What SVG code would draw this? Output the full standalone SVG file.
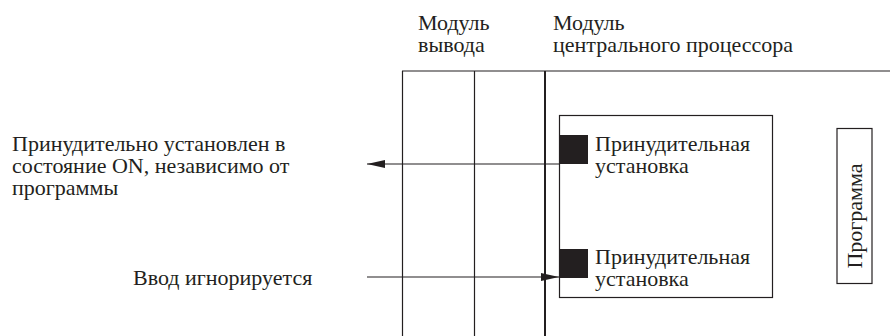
<svg xmlns="http://www.w3.org/2000/svg" width="890" height="336" viewBox="0 0 890 336">
<style>
text{font-family:"Liberation Serif","Times New Roman",serif;font-size:22px;fill:#231f20}
.ln{stroke:#231f20;fill:none;stroke-width:1.2}
.box{stroke:#231f20;fill:#fff;stroke-width:1.2}
.blk{fill:#231f20}
</style>
<defs>
<marker id="ah" viewBox="0 0 18 8" refX="18" refY="4" markerWidth="18" markerHeight="8" markerUnits="userSpaceOnUse" orient="auto">
<path d="M0,0 L18,4 L0,8 Z" fill="#231f20"/>
</marker>
</defs>
<g id="labels-top">
<text x="418" y="30">Модуль</text>
<text x="418" y="52">вывода</text>
<text x="553" y="30">Модуль</text>
<text x="553" y="52">центрального процессора</text>
</g>
<g id="frame">
<line class="ln" x1="402" y1="71" x2="890" y2="71"/>
<line class="ln" x1="402.5" y1="71" x2="402.5" y2="336"/>
<line class="ln" x1="474.5" y1="71" x2="474.5" y2="336"/>
<line class="ln" x1="545" y1="71" x2="545" y2="336" style="stroke-width:2"/>
</g>
<g id="cpu-box">
<rect class="box" x="559.5" y="115.5" width="213" height="182"/>
</g>
<g id="force1">
<rect class="blk" x="559" y="135" width="29" height="29"/>
<text x="595" y="151">Принудительная</text>
<text x="595" y="173">установка</text>
</g>
<g id="force2">
<rect class="blk" x="559" y="249" width="29" height="29"/>
<text x="595" y="264">Принудительная</text>
<text x="595" y="286">установка</text>
</g>
<g id="program">
<rect class="box" x="837" y="128.5" width="35" height="155"/>
<text transform="translate(862,216) rotate(-90)" text-anchor="middle">Программа</text>
</g>
<g id="left-labels">
<text x="12" y="151">Принудительно установлен в</text>
<text x="12" y="173">состояние ON, независимо от</text>
<text x="12" y="195">программы</text>
<text x="133" y="285">Ввод игнорируется</text>
</g>
<g id="connectors">
<line class="ln" x1="559" y1="164" x2="367" y2="164" marker-end="url(#ah)"/>
<line class="ln" x1="367" y1="277" x2="559" y2="277" marker-end="url(#ah)"/>
</g>
</svg>
